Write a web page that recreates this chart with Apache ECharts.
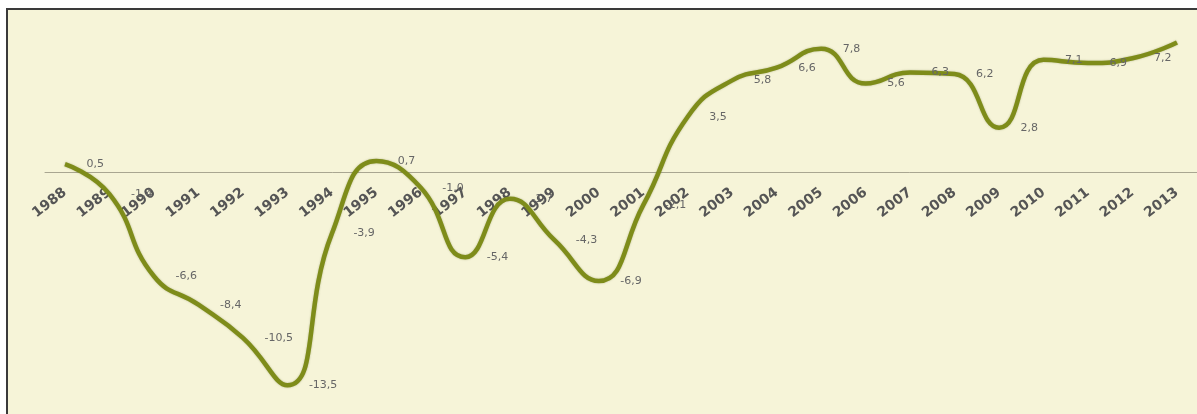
<!DOCTYPE html>
<html>
<head>
<meta charset="utf-8">
<script src="https://cdn.jsdelivr.net/npm/echarts@6/dist/echarts.min.js"></script>
<style>
  html, body { margin: 0; padding: 0; background: #ffffff; }
  #frame { position: absolute; left: 6px; top: 8px; width: 1200px; height: 420px;
           border-top: 2px solid #3a3a3a; border-left: 2px solid #3a3a3a; background: #f6f4d8; }
  #chart { position: absolute; left: 0; top: 0; width: 1197px; height: 414px; }
</style>
</head>
<body>
<div id="frame"></div>
<div id="chart"></div>
<script>
const years = ['1988','1989','1990','1991','1992','1993','1994','1995','1996','1997','1998','1999','2000',
               '2001','2002','2003','2004','2005','2006','2007','2008','2009','2010','2011','2012','2013'];
const growth = [0.5, -1.4, -6.6, -8.4, -10.5, -13.5, -3.9, 0.7, -1.0, -5.4, -1.7, -4.3, -6.9,
                -2.1, 3.5, 5.8, 6.6, 7.8, 5.6, 6.3, 6.2, 2.8, 7.1, 6.9, 7.2, 8.2];
const yMin = -15, yMax = 10;

const chart = echarts.init(document.getElementById('chart'), null, { renderer: 'canvas' });
const noBounds = { containLabel: false, outerBoundsMode: 'none' };
chart.setOption({
  backgroundColor: 'transparent',
  animation: false,
  grid: [
    Object.assign({ left: 65, right: 20, top: 14, height: 395 }, noBounds),   // series
    Object.assign({ left: 45, right: 0, top: 14, height: 395 }, noBounds),    // zero line
    Object.assign({ left: 65, right: 20, top: 14, height: 158 }, noBounds)    // year labels (bottom = zero)
  ],
  xAxis: [
    { type: 'category', gridIndex: 0, data: years, boundaryGap: false, show: false },
    {
      type: 'value', gridIndex: 1, min: 0, max: 1,
      axisLine: { show: true, onZero: true, lineStyle: { color: '#a9a691', width: 1 } },
      axisTick: { show: false }, axisLabel: { show: false }, splitLine: { show: false }
    },
    {
      type: 'category', gridIndex: 2, data: years, boundaryGap: false, position: 'bottom',
      axisLine: { show: false, onZero: false },
      axisTick: { show: false },
      axisLabel: {
        rotate: 38, margin: 19, interval: 0,
        color: '#555555', fontSize: 14, fontWeight: 'bold', fontFamily: 'DejaVu Sans'
      },
      splitLine: { show: false }
    }
  ],
  yAxis: [
    { type: 'value', gridIndex: 0, min: yMin, max: yMax, show: false, splitLine: { show: false } },
    { type: 'value', gridIndex: 1, min: yMin, max: yMax, show: false, splitLine: { show: false } },
    { type: 'value', gridIndex: 2, min: 0, max: yMax, show: false, splitLine: { show: false } }
  ],
  series: [{
    type: 'line',
    xAxisIndex: 0, yAxisIndex: 0,
    data: growth,
    smooth: 0.5,
    symbol: 'circle',
    symbolSize: 1,
    showSymbol: true,
    itemStyle: { color: 'rgba(0,0,0,0)' },
    lineStyle: { color: '#7e8c1a', width: 4.5, shadowColor: 'rgba(70,80,0,0.35)', shadowBlur: 2 },
    label: {
      show: true, position: 'right', distance: 21,
      color: '#666666', fontSize: 11, fontFamily: 'DejaVu Sans',
      formatter: p => p.value.toFixed(1).replace('.', ',')
    },
    z: 3
  }]
});
</script>
</body>
</html>
